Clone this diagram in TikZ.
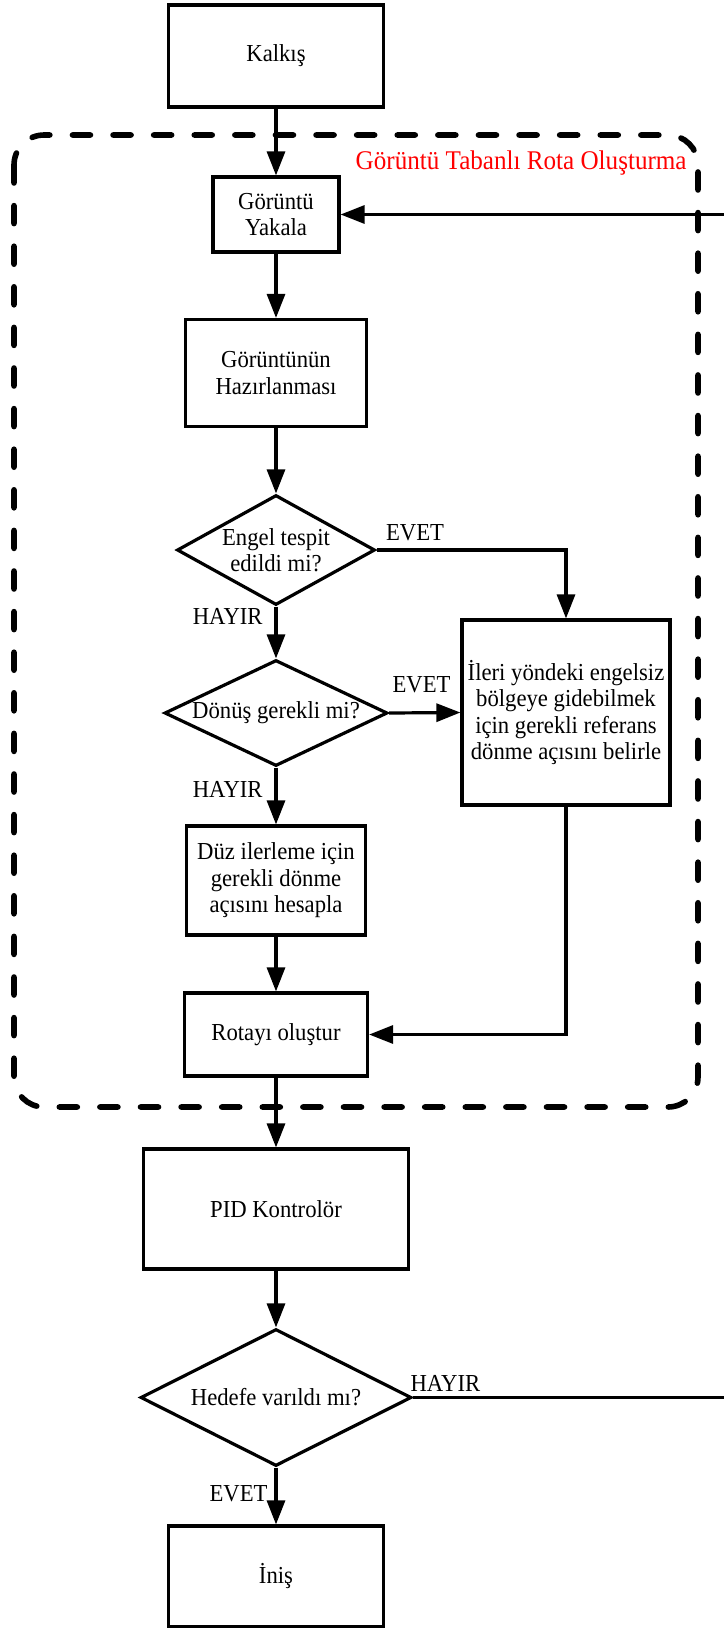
\documentclass[tikz,border=0pt]{standalone}
\usepackage{fontspec}
\setmainfont[FakeStretch=0.93]{Liberation Serif}
\usetikzlibrary{shapes.geometric,arrows.meta}

\begin{document}
\begin{tikzpicture}[x=0.5pt,y=-0.5pt]
	\tikzset{
		txt/.style={font=\fontsize{12.2}{13.3}\selectfont},
		stepbox/.style={draw,txt,line width=1.6pt,align=center,inner sep=2pt},
		decision/.style={draw,txt,diamond,aspect=2,line width=1.6pt,align=center,inner sep=-8pt},
		answer/.style={txt,inner sep=0pt},
		flow/.style={line width=1.6pt,-{Triangle[length=12pt,width=9pt]}},
		flowline/.style={line width=1.6pt}
	}
	\useasboundingbox (0,0) rectangle (723,1628);
	% image based route block
	\draw[line width=2.8pt,dash pattern=on 9pt off 11.3pt,line cap=round,rounded corners=15pt] (14,135) rectangle (698,1107);
	\node[txt,text=red,font=\fontsize{13.5}{15}\selectfont,anchor=east,inner sep=0pt] (blocktitle) at (687,163) {Görüntü Tabanlı Rota Oluşturma};

	\node[stepbox,minimum width=107.5pt,minimum height=51pt] (kalkis) at (276,56) {Kalkış};
	\node[stepbox,minimum width=63pt,minimum height=37.5pt] (yakala) at (276,214.5) {Görüntü\\Yakala};
	\node[stepbox,minimum width=90.5pt,minimum height=53.5pt] (hazir) at (276,373) {Görüntünün\\Hazırlanması};
	\node[decision,minimum width=99pt,minimum height=55pt] (engel) at (276,550) {Engel tespit\\edildi mi?};
	\node[decision,minimum width=111.5pt,minimum height=53pt] (donus) at (276,713) {Dönüş gerekli mi?};
	\node[stepbox,minimum width=104pt,minimum height=92.5pt] (ileri) at (566,712.5) {İleri yöndeki engelsiz\\bölgeye gidebilmek\\için gerekli referans\\dönme açısını belirle};
	\node[stepbox,minimum width=89.5pt,minimum height=54.5pt] (duz) at (276,880.5) {Düz ilerleme için\\gerekli dönme\\açısını hesapla};
	\node[stepbox,minimum width=91.5pt,minimum height=41.5pt] (rota) at (276,1034.5) {Rotayı oluştur};
	\node[stepbox,minimum width=132.5pt,minimum height=60pt] (pid) at (276,1209) {PID Kontrolör};
	\node[decision,minimum width=135.5pt,minimum height=68.5pt] (hedef) at (276,1397.5) {Hedefe varıldı mı?};
	\node[stepbox,minimum width=107.5pt,minimum height=50.5pt] (inis) at (276,1576.5) {İniş};

	% return path runs past the right border
	\coordinate (back) at (760,0);

	\draw[flow] (kalkis) -- (yakala);
	\draw[flow] (yakala) -- (hazir);
	\draw[flow] (hazir) -- (engel);
	\draw[flow] (engel) -- (donus);
	\draw[flow] (engel.east) -| (ileri.north);
	\draw[flow] (donus.east) -- (ileri.west);
	\draw[flow] (donus) -- (duz);
	\draw[flow] (duz) -- (rota);
	\draw[flow] (ileri.south) |- (rota.east);
	\draw[flow] (rota) -- (pid);
	\draw[flow] (pid) -- (hedef);
	\draw[flow] (hedef) -- (inis);
	\draw[flow] (hedef.east) -- (hedef.east -| back) -- (yakala.east -| back) -- (yakala.east);

	\node[answer,anchor=west] (engelevet) at ([xshift=4.5pt,yshift=8.5pt]engel.east) {EVET};
	\node[answer,anchor=east] (engelhayir) at ([xshift=-6.5pt,yshift=-5pt]engel.south) {HAYIR};
	\node[answer,anchor=west] (donusevet) at ([xshift=1.5pt,yshift=14pt]donus.east) {EVET};
	\node[answer,anchor=east] (donushayir) at ([xshift=-6.5pt,yshift=-11pt]donus.south) {HAYIR};
	\node[answer,anchor=west] (hedefhayir) at ([xshift=-1.5pt,yshift=7pt]hedef.east) {HAYIR};
	\node[answer,anchor=east] (hedefevet) at ([xshift=-4pt,yshift=-13pt]hedef.south) {EVET};
\end{tikzpicture}
\end{document}
